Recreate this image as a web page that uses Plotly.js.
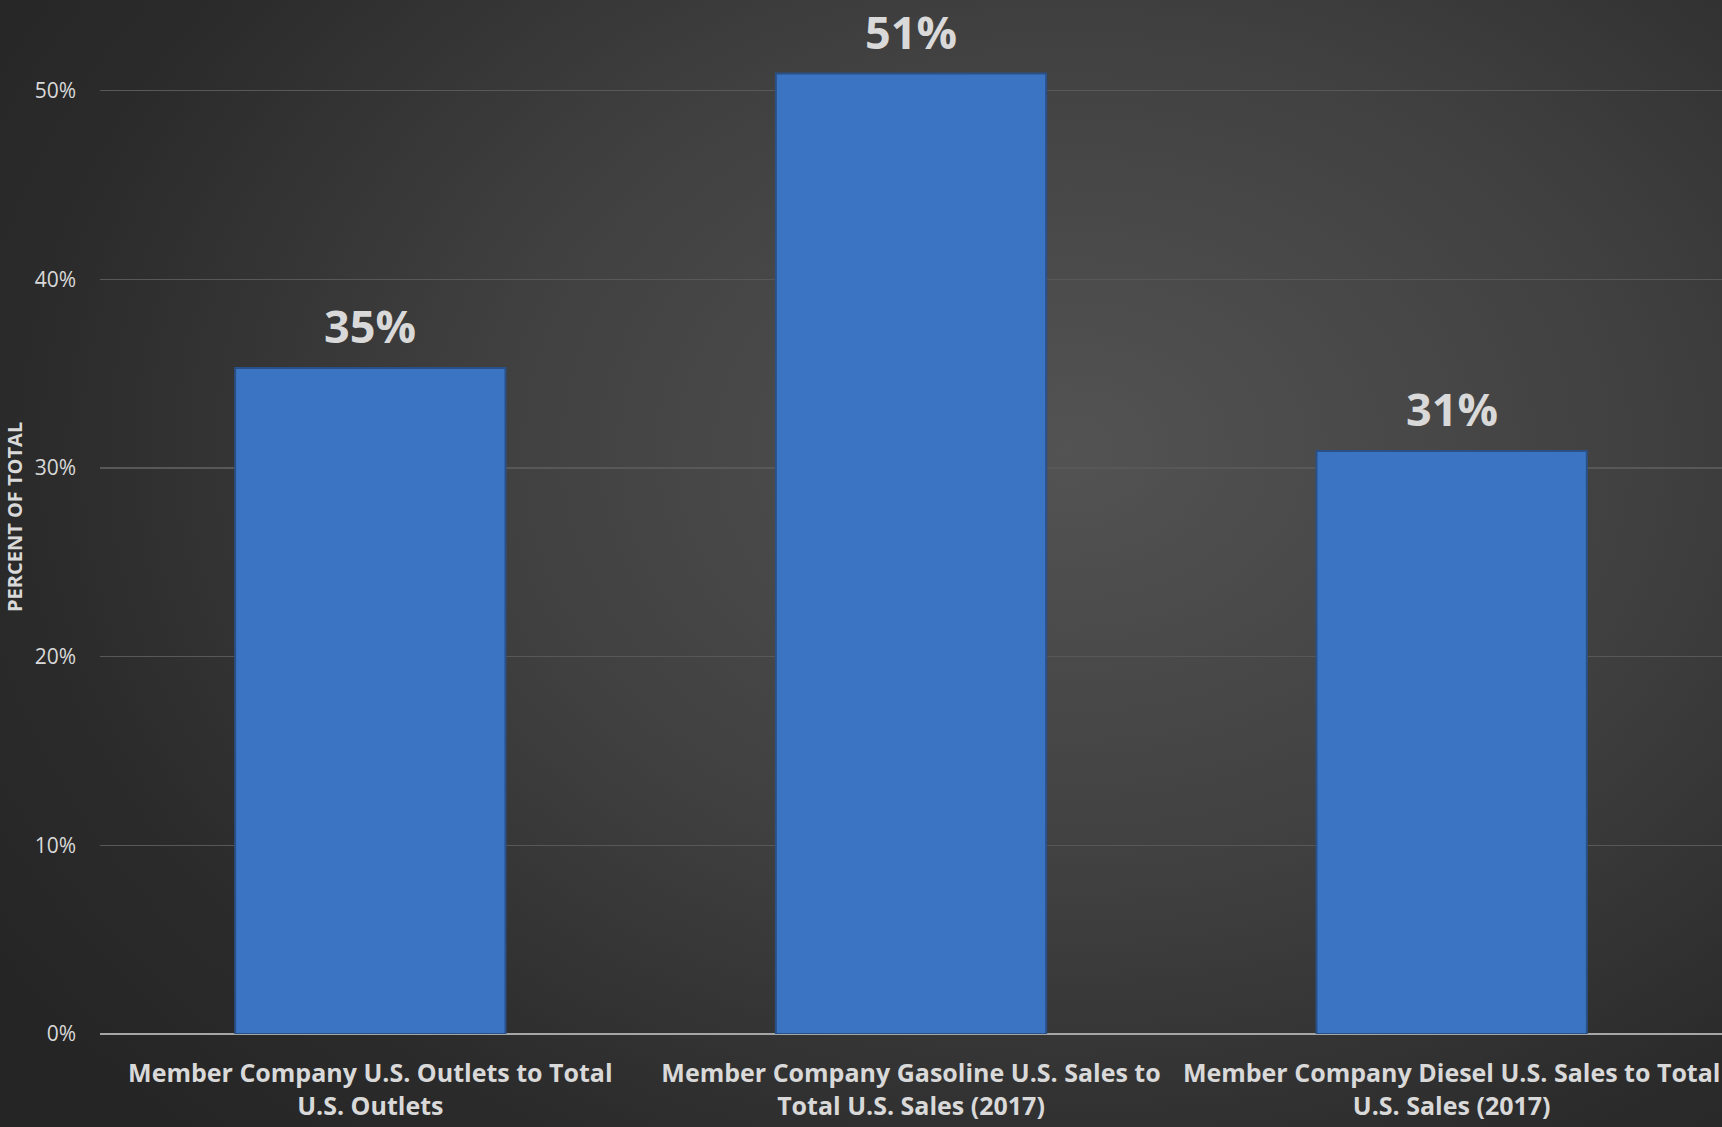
<!DOCTYPE html>
<html>
<head>
<meta charset="utf-8">
<script src="https://cdn.plot.ly/plotly-3.0.1.min.js"></script>
<style>
  html, body { margin:0; padding:0; width:1722px; height:1127px; overflow:hidden;
    background: radial-gradient(ellipse 75% 85% at 62% 40%, #535353 0%, #404040 45%, #2b2b2b 80%, #252525 100%); }
  #chart { width:1722px; height:1127px; }
</style>
</head>
<body>
<div id="chart"></div>
<script>
const categories = [
  "Member Company U.S. Outlets to Total<br>U.S. Outlets",
  "Member Company Gasoline U.S. Sales to<br>Total U.S. Sales (2017)",
  "Member Company Diesel U.S. Sales to Total<br>U.S. Sales (2017)"
];
const values = [35.3, 50.9, 30.9];
const valueLabels = ["35%", "51%", "31%"];
const yTickVals = [0, 10, 20, 30, 40, 50];
const yTickText = ["0%", "10%", "20%", "30%", "40%", "50%"];
const yTitle = "PERCENT OF TOTAL";

const trace = {
  type: "bar",
  x: categories,
  y: values,
  marker: { color: "#3b74c2", line: { color: "#2a5088", width: 2 } },
  hoverinfo: "skip"
};

const valueAnnotations = categories.map((c, i) => ({
  x: c, y: values[i], xref: "x", yref: "y",
  text: valueLabels[i],
  xanchor: "center", yanchor: "bottom",
  yshift: 11,
  borderpad: 0,
  showarrow: false,
  font: { family: "Open Sans", size: 45, color: "#d9d9d9", weight: 700 }
}));

const layout = {
  width: 1722, height: 1127,
  margin: { l: 100, r: 0, t: 0, b: 93 },
  paper_bgcolor: "rgba(0,0,0,0)",
  plot_bgcolor: "rgba(0,0,0,0)",
  bargap: 0.5,
  showlegend: false,
  font: { family: "Open Sans", color: "#d9d9d9" },
  xaxis: {
    type: "category",
    showgrid: false,
    showline: false,
    zeroline: false,
    ticks: "",
    tickfont: { family: "Open Sans", size: 25, color: "#d9d9d9", weight: 700 },
    ticklabelstandoff: 22
  },
  yaxis: {
    range: [0, 54.8],
    tickvals: yTickVals,
    ticktext: yTickText,
    showgrid: true,
    gridcolor: "#585858",
    gridwidth: 1.5,
    zeroline: true,
    zerolinecolor: "#a6a6a6",
    zerolinewidth: 2.5,
    showline: false,
    ticks: "",
    ticklabelstandoff: 23,
    tickfont: { family: "Open Sans", size: 21, color: "#d9d9d9" }
  },
  annotations: valueAnnotations.concat([{
    text: yTitle,
    xref: "paper", yref: "paper",
    x: -86 / 1622, y: 0.5,
    xanchor: "center", yanchor: "middle",
    textangle: -90,
    showarrow: false,
    font: { family: "Open Sans", size: 20, color: "#d9d9d9", weight: 700 }
  }])
};

Plotly.newPlot("chart", [trace], layout, { displayModeBar: false, staticPlot: true });
</script>
</body>
</html>
